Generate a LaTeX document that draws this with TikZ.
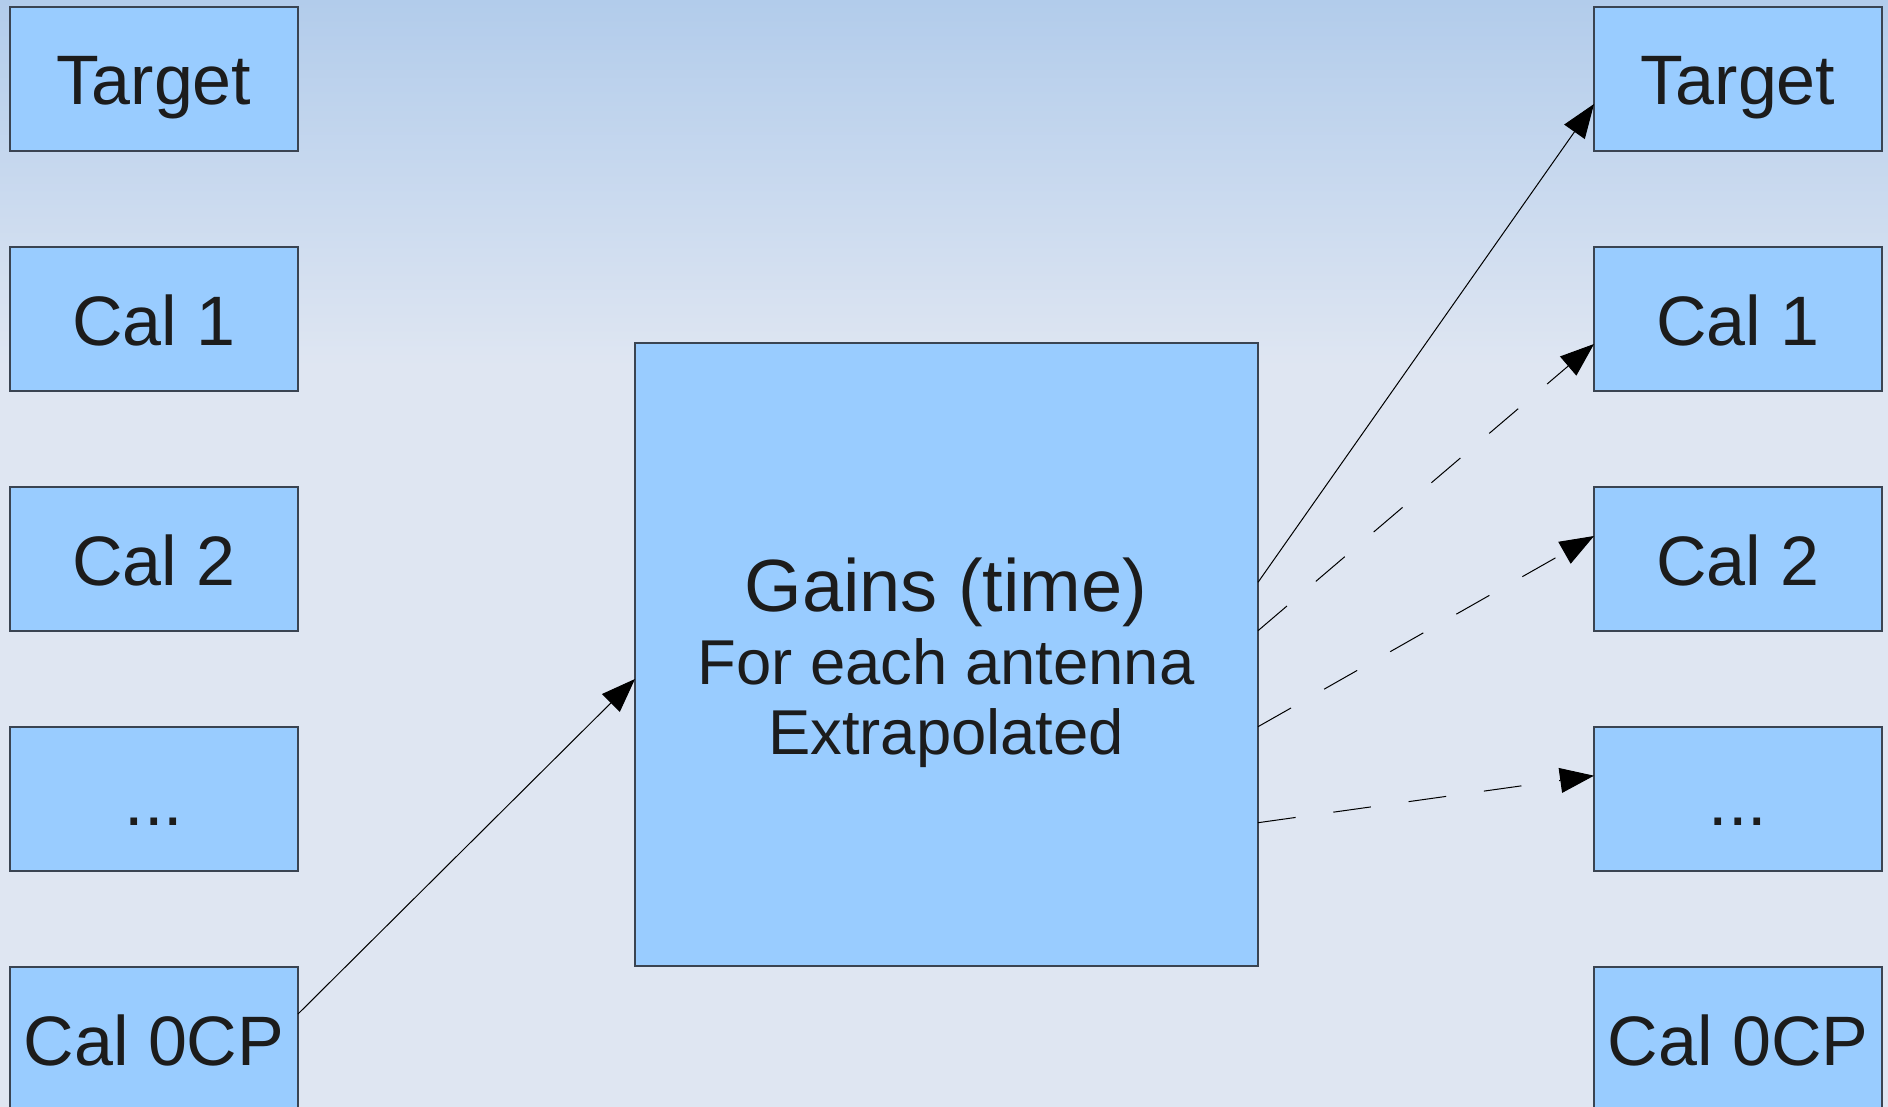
\documentclass[tikz,border=0pt]{standalone}
\usepackage{fontspec}
\setmainfont{Liberation Sans}
\usetikzlibrary{arrows.meta,calc}
\definecolor{bgtop}{HTML}{B2CCEB}
\definecolor{bgbot}{HTML}{DFE6F2}
\definecolor{boxfill}{HTML}{99CCFF}
\definecolor{boxline}{HTML}{3A4452}
\definecolor{ink}{HTML}{1C1C1C}
\tikzset{
  bx/.style={draw=boxline, fill=boxfill, line width=0.6pt, rectangle, anchor=north west,
    minimum width=144pt, minimum height=72pt, inner sep=0pt, outer sep=0pt,
    text=ink, font=\fontsize{35}{40}\selectfont, text height=26pt, text depth=0pt},
  gbox/.style={draw=boxline, fill=boxfill, line width=0.6pt, rectangle, anchor=north west,
    minimum width=311.5pt, minimum height=311.5pt, inner sep=0pt, outer sep=0pt},
  gtxt/.style={anchor=base, inner sep=0pt, text=ink},
  conn/.style={draw=black, line width=0.5pt, -{Triangle[length=17pt,width=12.5pt]}},
  dsh/.style={dash pattern=on 19pt off 19pt}
}
\begin{document}
\begin{tikzpicture}[x=0.5pt,y=-0.5pt]
\useasboundingbox (0,0) rectangle (1888,1107);
\clip (0,0) rectangle (1888,1107);
\fill[bgbot] (0,0) rectangle (1888,1107);
\shade[top color=bgtop, bottom color=bgbot] (0,0) rectangle (1888,367);

% left column
\node[bx] (L1) at (10,7) {Target};
\node[bx] (L2) at (10,247) {Cal 1};
\node[bx] (L3) at (10,487) {Cal 2};
\node[bx] (L4) at (10,727) {...};
\node[bx] (L5) at (10,967) {Cal 0CP};

% right column
\node[bx] (R1) at (1594,7) {Target};
\node[bx] (R2) at (1594,247) {Cal 1};
\node[bx] (R3) at (1594,487) {Cal 2};
\node[bx] (R4) at (1594,727) {...};
\node[bx] (R5) at (1594,967) {Cal 0CP};

% centre box
\node[gbox] (G) at (635,343) {};
\node[gtxt, font=\fontsize{37}{40}\selectfont] (G1) at (946,611.5) {Gains (time)};
\node[gtxt, font=\fontsize{31.7}{36}\selectfont] (G2) at (946,684) {For each antenna};
\node[gtxt, font=\fontsize{31.7}{36}\selectfont] (G3) at (946,754) {Extrapolated};

% connectors
\draw[conn] ($(L5.north east)+(0,47)$) -- ($(G.north west)+(0,336)$);
\draw[conn] ($(G.north east)+(0,239.3)$) -- ($(R1.north west)+(0,97)$);
\draw[conn,dsh] ($(G.north east)+(0,287.7)$) -- ($(R2.north west)+(0,97)$);
\draw[conn,dsh] ($(G.north east)+(0,383.7)$) -- ($(R3.north west)+(0,49)$);
\draw[conn,dsh] ($(G.north east)+(0,479.7)$) -- ($(R4.north west)+(0,48.7)$);
\end{tikzpicture}
\end{document}
